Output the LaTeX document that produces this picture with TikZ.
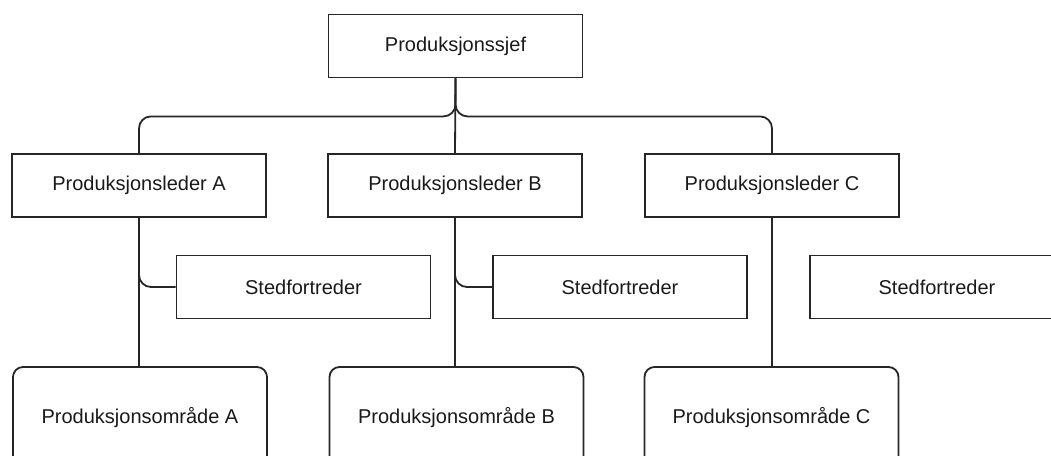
\documentclass[tikz,border=0pt]{standalone}
\usepackage{fontspec}
\setmainfont{Liberation Sans}
\begin{document}
\begin{tikzpicture}[x=1pt,y=-1pt,
  box/.style={draw=black!85, line width=1.8pt, minimum width=254pt, minimum height=63pt, inner sep=0pt, font=\fontsize{20}{24}\selectfont, text=black!90},
  roundbox/.style={box, rounded corners=10pt, minimum height=102pt},
  edge/.style={draw=black!85, line width=1.8pt, rounded corners=12pt}]
\useasboundingbox (0,0) rectangle (1051,455);
\node[box] (top) at (455.5,46) {Produksjonssjef};
\node[box] (A) at (139,185.5) {Produksjonsleder A};
\node[box] (B) at (455,185.5) {Produksjonsleder B};
\node[box] (C) at (772,185.5) {Produksjonsleder C};
\node[box] (SA) at (303.5,287) {Stedfortreder};
\node[box] (SB) at (620,287) {Stedfortreder};
\node[box] (SC) at (937,287) {Stedfortreder};
\node[roundbox] (PA) at (140,418) {Produksjonsområde A};
\node[roundbox] (PB) at (456.5,418) {Produksjonsområde B};
\node[roundbox] (PC) at (771.5,418) {Produksjonsområde C};
\draw[edge] (top.south) -- ++(0,38) -| (A.north);
\draw[edge] (top.south) -- (B.north);
\draw[edge] (top.south) -- ++(0,38) -| (C.north);
\draw[edge] (A.south) |- (SA.west);
\draw[edge] (B.south) |- (SB.west);
\draw[edge] (A.south) -- (A.south |- PA.north);
\draw[edge] (B.south) -- (B.south |- PB.north);
\draw[edge] (C.south) -- (C.south |- PC.north);
\end{tikzpicture}
\end{document}
